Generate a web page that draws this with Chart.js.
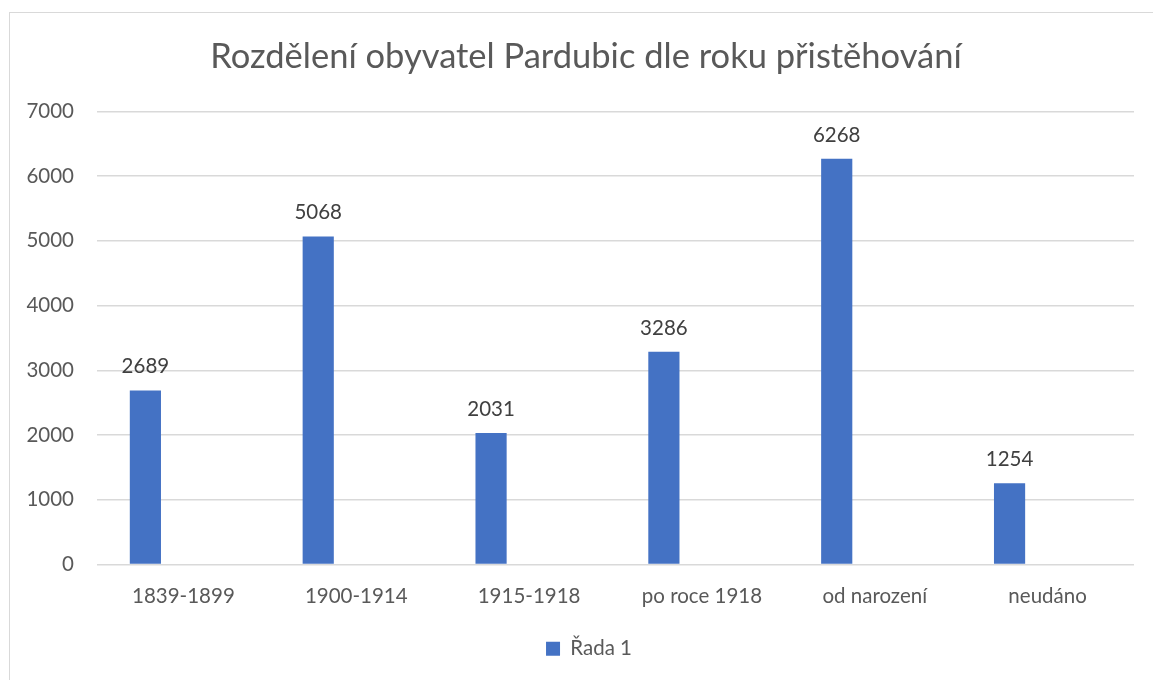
<!DOCTYPE html>
<html lang="cs">
<head>
    <meta charset="UTF-8">
    <title>Rozdělení obyvatel Pardubic dle roku přistěhování</title>
    <script src="https://cdn.jsdelivr.net/npm/chart.js"></script>
    <style>
        body {
            margin: 0;
            background: #fff;
            overflow: hidden;
        }
        #frame {
            position: absolute;
            left: 9px;
            top: 12px;
            width: 1300px;
            height: 800px;
            border: 1px solid #d9d9d9;
        }
        #wrap {
            position: absolute;
            left: 0;
            top: 0;
            width: 1153px;
            height: 680px;
        }
    </style>
</head>
<body>
    <div id="frame"></div>
    <div id="wrap"><canvas id="chart" width="1153" height="680"></canvas></div>
    <script>
        // data
        const categories = ['1839-1899', '1900-1914', '1915-1918', 'po roce 1918', 'od narození', 'neudáno'];
        const seriesName = 'Řada 1';
        const values = [2689, 5068, 2031, 3286, 6268, 1254];
        const yTicks = [0, 1000, 2000, 3000, 4000, 5000, 6000, 7000];

        const blue = '#4472C4';
        const grey = '#595959';
        const fontFamily = 'Lato, "Liberation Sans", sans-serif';
        const fs = 20.5;

        // value labels above bars (no datalabels plugin available offline)
        const valueLabels = {
            id: 'valueLabels',
            afterDatasetsDraw(chart) {
                const ctx = chart.ctx;
                const meta = chart.getDatasetMeta(0);
                ctx.save();
                ctx.font = fs + 'px ' + fontFamily;
                ctx.fillStyle = '#404040';
                ctx.textAlign = 'center';
                ctx.textBaseline = 'alphabetic';
                meta.data.forEach((bar, i) => {
                    ctx.fillText(String(values[i]), bar.x, bar.y - 17);
                });
                ctx.restore();
            }
        };

        // the Excel frame is centred a bit to the right of the plot, nudge title + legend
        const nudge = {
            id: 'nudge',
            afterLayout(chart) {
                chart.titleBlock.left += 19;
                chart.titleBlock.right += 19;
                chart.legend.left += 22;
                chart.legend.right += 22;
            }
        };

        // Excel-style chart: two empty series keep the bar on the left of each slot
        new Chart(document.getElementById('chart'), {
            type: 'bar',
            data: {
                labels: categories,
                datasets: [
                    { label: seriesName, data: values, backgroundColor: blue },
                    { label: 'Řada 2', data: [], backgroundColor: '#ED7D31' },
                    { label: 'Řada 3', data: [], backgroundColor: '#A5A5A5' }
                ]
            },
            options: {
                responsive: false,
                animation: false,
                categoryPercentage: 0.66,
                barPercentage: 0.82,
                layout: { padding: { left: 0, right: 19, top: 0, bottom: 11 } },
                plugins: {
                    title: {
                        display: true,
                        text: 'Rozdělení obyvatel Pardubic dle roku přistěhování',
                        color: grey,
                        font: { family: fontFamily, size: 34.5, weight: '400' },
                        padding: { top: 36, bottom: 34 }
                    },
                    legend: {
                        position: 'bottom',
                        labels: {
                            color: grey,
                            font: { family: fontFamily, size: fs },
                            boxWidth: 14,
                            boxHeight: 14,
                            padding: 10,
                            filter: item => item.datasetIndex === 0
                        }
                    },
                    tooltip: { enabled: false }
                },
                scales: {
                    x: {
                        grid: { display: false, drawTicks: false },
                        border: { display: false },
                        ticks: {
                            color: grey,
                            font: { family: fontFamily, size: fs },
                            padding: 20,
                            maxRotation: 0
                        },
                        afterFit(scale) { scale.height = 64; }
                    },
                    y: {
                        min: 0,
                        max: 7000,
                        afterBuildTicks(scale) {
                            scale.ticks = yTicks.map(v => ({ value: v }));
                        },
                        grid: { color: '#d9d9d9', lineWidth: 1.5, drawTicks: false },
                        border: { display: false },
                        ticks: {
                            color: grey,
                            font: { family: fontFamily, size: fs },
                            padding: 23,
                            callback: v => String(v)
                        },
                        afterFit(scale) { scale.width = 97; }
                    }
                }
            },
            plugins: [valueLabels, nudge]
        });
    </script>
</body>
</html>
